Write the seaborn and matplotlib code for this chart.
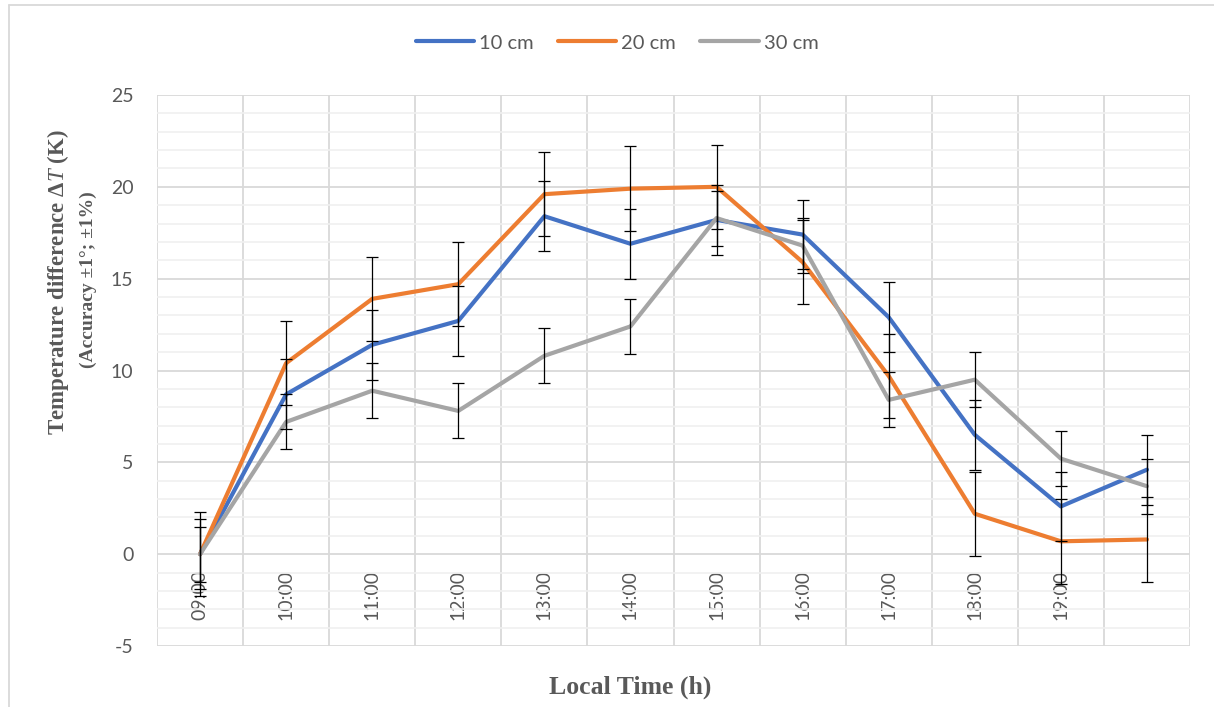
import numpy as np
import pandas as pd
import matplotlib
matplotlib.use("Agg")
import matplotlib.pyplot as plt
from matplotlib.lines import Line2D
import seaborn as sns

# Hourly readings
times = ["09:00", "10:00", "11:00", "12:00", "13:00", "14:00",
         "15:00", "16:00", "17:00", "18:00", "19:00", ""]
depths = ["10 cm", "20 cm", "30 cm"]
dt_10cm = [0, 8.7, 11.4, 12.7, 18.4, 16.9, 18.2, 17.4, 12.9, 6.5, 2.6, 4.6]
dt_20cm = [0, 10.4, 13.9, 14.7, 19.6, 19.9, 20.0, 15.9, 9.7, 2.2, 0.7, 0.8]
dt_30cm = [0, 7.2, 8.9, 7.8, 10.8, 12.4, 18.3, 16.8, 8.4, 9.5, 5.2, 3.7]
err_10cm = [1.9] * 12
err_20cm = [2.3] * 12
err_30cm = [1.5] * 12

colors = ["#4472C4", "#ED7D31", "#A5A5A5"]
text_gray = "#595959"

series = [dt_10cm, dt_20cm, dt_30cm]
errors = [err_10cm, err_20cm, err_30cm]
pos = np.arange(len(times))

df = pd.DataFrame({
    "pos": np.tile(pos, 3),
    "dT": np.concatenate(series),
    "depth": np.repeat(depths, len(times)),
})

sns.set_theme(style="white")
plt.rcParams["font.family"] = ["Lato", "DejaVu Sans"]
plt.rcParams["axes.unicode_minus"] = False
plt.rcParams["mathtext.fontset"] = "custom"
plt.rcParams["mathtext.rm"] = "Liberation Serif:bold"
plt.rcParams["mathtext.it"] = "Liberation Serif:italic"

fig = plt.figure(figsize=(12.14, 7.07), dpi=100)
ax = fig.add_axes([157 / 1214, 1 - 646 / 707, (1190 - 157) / 1214, (646 - 95) / 707])

sns.lineplot(data=df, x="pos", y="dT", hue="depth", palette=colors,
             linewidth=3.0, ax=ax, legend=False, zorder=3,
             solid_joinstyle="round", solid_capstyle="round")

for vals, errs in zip(series, errors):
    ax.errorbar(pos, vals, yerr=errs, fmt="none", ecolor="black",
                elinewidth=0.9, capsize=4.5, capthick=0.9, zorder=4)

ax.set_xlim(-0.5, len(times) - 0.5)
ax.set_ylim(-5, 25)
ax.set_yticks(np.arange(-5, 26, 5))
ax.set_yticks(np.arange(-5, 26, 1), minor=True)
ax.set_xticks(pos)
ax.set_xticklabels(times)
ax.set_xticks(np.arange(-0.5, len(times), 1), minor=True)

ax.grid(axis="y", which="minor", color="#F0F0F0", linewidth=1.2, zorder=0)
ax.grid(axis="y", which="major", color="#D9D9D9", linewidth=1.3, zorder=1)
ax.grid(axis="x", which="minor", color="#D9D9D9", linewidth=1.3, zorder=1)
ax.grid(axis="x", which="major", visible=False)
ax.set_axisbelow(True)

# category axis crosses the value axis at zero
ax.spines["bottom"].set_position(("data", 0))
for s in ax.spines.values():
    s.set_visible(False)
ax.tick_params(axis="x", which="both", length=0, pad=11.5,
               labelsize=14, labelcolor=text_gray, labelrotation=90)
ax.tick_params(axis="y", which="both", length=0, pad=17,
               labelsize=14, labelcolor=text_gray)
for lbl in ax.get_xticklabels():
    lbl.set_verticalalignment("top")
    lbl.set_horizontalalignment("center")
ax.set_xlabel("")
ax.set_ylabel("")

fig.text(58 / 1214, 1 - 282 / 707, r"Temperature difference $\Delta T$ (K)",
         rotation=90, ha="center", va="center", color=text_gray,
         family="Liberation Serif", weight="bold", fontsize=16.5)
fig.text(88 / 1214, 1 - 280 / 707, "(Accuracy ±1°; ±1%)",
         rotation=90, ha="center", va="center", color=text_gray,
         family="Liberation Serif", weight="bold", fontsize=14)
fig.text(630 / 1214, 1 - 687 / 707, "Local Time (h)",
         ha="center", va="center", color=text_gray,
         family="Liberation Serif", weight="bold", fontsize=18.5)

handles = [Line2D([], [], color=c, linewidth=3.0, solid_capstyle="round")
           for c in colors]
leg = fig.legend(handles, depths, loc="center", ncol=3,
                 bbox_to_anchor=(617 / 1214, 1 - 43 / 707), frameon=False,
                 fontsize=14.5, handlelength=2.9, handletextpad=0.25,
                 columnspacing=1.2)
for t in leg.get_texts():
    t.set_color(text_gray)

# chart area border
border = "#D9D9D9"
fig.add_artist(Line2D([9 / 1214, 1], [1 - 5 / 707, 1 - 5 / 707],
                      transform=fig.transFigure, color=border, linewidth=1.3))
fig.add_artist(Line2D([9 / 1214, 9 / 1214], [0, 1 - 5 / 707],
                      transform=fig.transFigure, color=border, linewidth=1.3))

fig.savefig("out.png", dpi=100, facecolor="white")
